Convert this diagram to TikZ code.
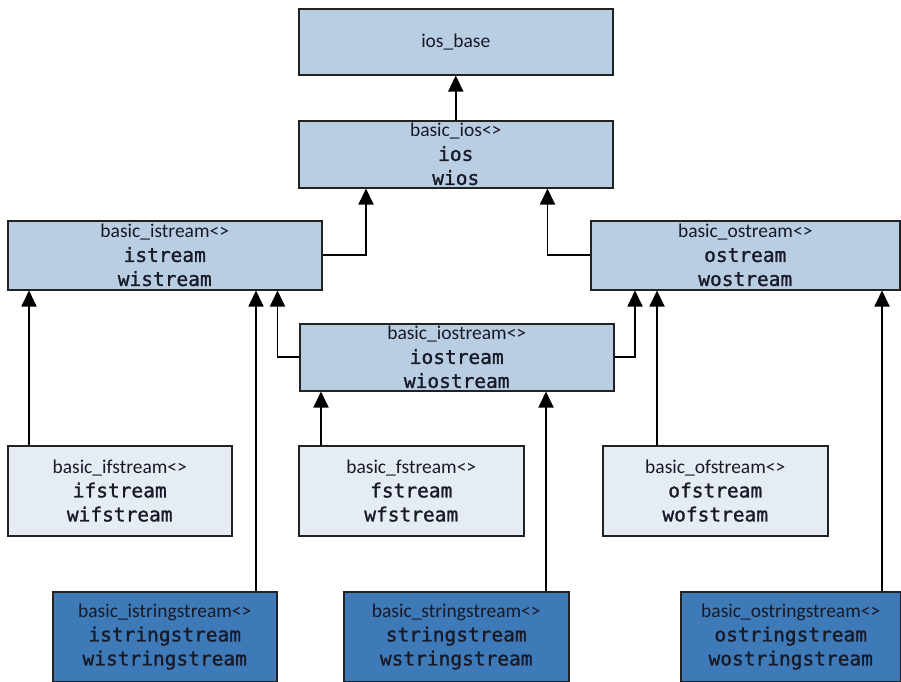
\documentclass[tikz,border=0pt]{standalone}
\usepackage{fontspec}
\setmainfont{Carlito}
% typedef names: a slightly thickened monospaced face
\newfontfamily\codefont[BoldFont={DejaVu Sans Mono}, BoldFeatures={FakeBold=1.3}]{DejaVu Sans Mono}
\usetikzlibrary{arrows.meta}

\definecolor{boxmid}{RGB}{185,206,227}
\definecolor{boxpale}{RGB}{230,236,244}
\definecolor{boxdark}{RGB}{62,122,184}
\definecolor{inktext}{RGB}{24,26,40}
\definecolor{edge}{RGB}{34,34,34}

% template name on the first line, the two typedefs below it
\newcommand{\cls}[3]{#1\\{\codefont\bfseries\fontsize{19.5}{24}\selectfont #2}\\{\codefont\bfseries\fontsize{19.5}{24}\selectfont #3}}

\tikzset{
  classbox/.style={draw=edge, line width=1.5pt, rectangle, inner sep=0pt,
    align=center, text=inktext, anchor=north west,
    font=\fontsize{19.5}{24}\selectfont},
  midbox/.style={classbox, fill=boxmid},
  palebox/.style={classbox, fill=boxpale},
  darkbox/.style={classbox, fill=boxdark},
  inherit/.style={draw=black, line width=1.8pt,
    -{Triangle[width=15pt,length=16pt]}}
}

\begin{document}
\begin{tikzpicture}[x=1pt,y=-1pt]
\useasboundingbox (0,0) rectangle (901,681);

% top of the hierarchy
\node[midbox, minimum width=314pt, minimum height=66pt] (base) at (298,8)
  {ios\_base};
\node[midbox, minimum width=314pt, minimum height=67pt] (ios) at (298,120)
  {\cls{basic\_ios<>}{ios}{wios}};

% input / output streams
\node[midbox, minimum width=314pt, minimum height=69pt] (istream) at (7,220)
  {\cls{basic\_istream<>}{istream}{wistream}};
\node[midbox, minimum width=309pt, minimum height=69pt] (ostream) at (590,220)
  {\cls{basic\_ostream<>}{ostream}{wostream}};
\node[midbox, minimum width=314pt, minimum height=67pt] (iostream) at (299,323)
  {\cls{basic\_iostream<>}{iostream}{wiostream}};

% file streams
\node[palebox, minimum width=224pt, minimum height=90pt] (ifstream) at (7,445)
  {\cls{basic\_ifstream<>}{ifstream}{wifstream}};
\node[palebox, minimum width=225pt, minimum height=90pt] (fstream) at (298,445)
  {\cls{basic\_fstream<>}{fstream}{wfstream}};
\node[palebox, minimum width=225pt, minimum height=90pt] (ofstream) at (602,445)
  {\cls{basic\_ofstream<>}{ofstream}{wofstream}};

% string streams
\node[darkbox, minimum width=224pt, minimum height=90pt] (isstream) at (52,591)
  {\cls{basic\_istringstream<>}{istringstream}{wistringstream}};
\node[darkbox, minimum width=225pt, minimum height=90pt] (sstream) at (343,591)
  {\cls{basic\_stringstream<>}{stringstream}{wstringstream}};
\node[darkbox, minimum width=220pt, minimum height=90pt] (osstream) at (680,591)
  {\cls{basic\_ostringstream<>}{ostringstream}{wostringstream}};

% inheritance arrows
\draw[inherit] (ios.north) -- (base.south);
\draw[inherit] (istream.east) -| ([xshift=68pt]ios.south west);
\draw[inherit] (ostream.west) -| ([xshift=-66pt]ios.south east);

\draw[inherit] ([xshift=22pt]ifstream.north west) -- ([xshift=22pt]istream.south west);
\draw[inherit] ([xshift=204pt]isstream.north west) -- ([xshift=249pt]istream.south west);
\draw[inherit] (iostream.west) -| ([xshift=-45pt]istream.south east);

\draw[inherit] (iostream.east) -| ([xshift=45pt]ostream.south west);
\draw[inherit] ([xshift=55pt]ofstream.north west) -- ([xshift=67pt]ostream.south west);
\draw[inherit] ([xshift=202pt]osstream.north west) -- ([xshift=292pt]ostream.south west);

\draw[inherit] ([xshift=23pt]fstream.north west) -- ([xshift=22pt]iostream.south west);
\draw[inherit] ([xshift=203pt]sstream.north west) -- ([xshift=247pt]iostream.south west);
\end{tikzpicture}
\end{document}
